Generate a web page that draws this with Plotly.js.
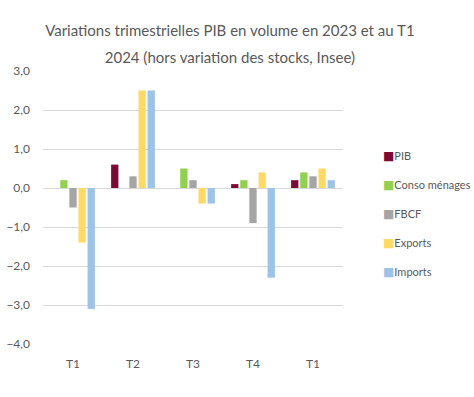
<!DOCTYPE html>
<html><head><meta charset="utf-8">
<script src="https://cdn.plot.ly/plotly-3.0.1.min.js"></script>
<style>html,body{margin:0;padding:0;background:#fff}#c{width:474px;height:397px}</style>
</head><body><div id="c"></div>
<script>
const categories = ["T1", "T2", "T3", "T4", "T1"];
const seriesNames = ["PIB", "Conso ménages", "FBCF", "Exports", "Imports"];
const pib = [0.0, 0.6, 0.0, 0.1, 0.2];
const conso = [0.2, 0.0, 0.5, 0.2, 0.4];
const fbcf = [-0.5, 0.3, 0.2, -0.9, 0.3];
const exportsV = [-1.4, 2.5, -0.4, 0.4, 0.5];
const imports = [-3.1, 2.5, -0.4, -2.3, 0.2];
const colors = ["#7b0a35", "#92d050", "#a5a5a5", "#ffd966", "#9dc3e6"];
const yTicks = [3, 2, 1, 0, -1, -2, -3, -4];
const titleLine1 = "Variations trimestrielles PIB en volume en 2023 et au T1";
const titleLine2 = "2024 (hors variation des stocks, Insee)";

const FONT = "Lato, sans-serif";
const xIdx = categories.map((c, i) => i);
const all = [pib, conso, fbcf, exportsV, imports];
const traces = [];
all.forEach((vals, k) => {
  traces.push({type: "bar", x: xIdx, y: vals, name: seriesNames[k],
    marker: {color: colors[k]}, showlegend: false, hoverinfo: "y"});
});
all.forEach((vals, k) => {
  traces.push({type: "scatter", mode: "lines", x: [null], y: [null],
    name: '<span style="color:' + colors[k] + ';font-family:DejaVu Sans;font-size:12px">■</span>' + seriesNames[k],
    line: {color: "rgba(0,0,0,0)", width: 0}, legendgroup: "g" + k, showlegend: true});
});

const layout = {
  width: 474, height: 397,
  margin: {l: 43, r: 100, t: 71, b: 53},
  paper_bgcolor: "#fff", plot_bgcolor: "#fff",
  separators: ", ",
  barmode: "group", bargap: 0.24, bargroupgap: 0.2,
  font: {family: FONT, color: "#595959", size: 12},
  title: {text: '<span style="font-size:15px">' + titleLine1 + '</span><br><span style="font-size:15px">' + titleLine2 + '</span>',
    font: {family: FONT, size: 20.5, color: "#595959"},
    xref: "container", x: 0.485, xanchor: "center", yref: "container", y: 1 - 36/397, yanchor: "top"},
  xaxis: {tickmode: "array", tickvals: xIdx, ticktext: categories, range: [-0.5, 4.5],
    showgrid: false, zeroline: false, showline: false, ticks: "", ticklabelstandoff: 11,
    tickfont: {size: 12, color: "#595959"}},
  yaxis: {range: [-4, 3], tickmode: "array", tickvals: yTicks, tickformat: ".1f",
    showgrid: true, gridcolor: "#d9d9d9", gridwidth: 1, zeroline: true, zerolinecolor: "#d9d9d9", zerolinewidth: 1,
    showline: false, ticks: "", ticklabelstandoff: 12, tickfont: {size: 12, color: "#595959"}},
  legend: {x: 343/474, xref: "container", xanchor: "left", y: 1 - 141/397, yref: "container", yanchor: "top",
    font: {size: 11, color: "#595959"}, tracegroupgap: 10, itemwidth: 30, bgcolor: "rgba(0,0,0,0)"},
  showlegend: true
};
Plotly.newPlot("c", traces, layout, {displayModeBar: false, staticPlot: true});
</script></body></html>
